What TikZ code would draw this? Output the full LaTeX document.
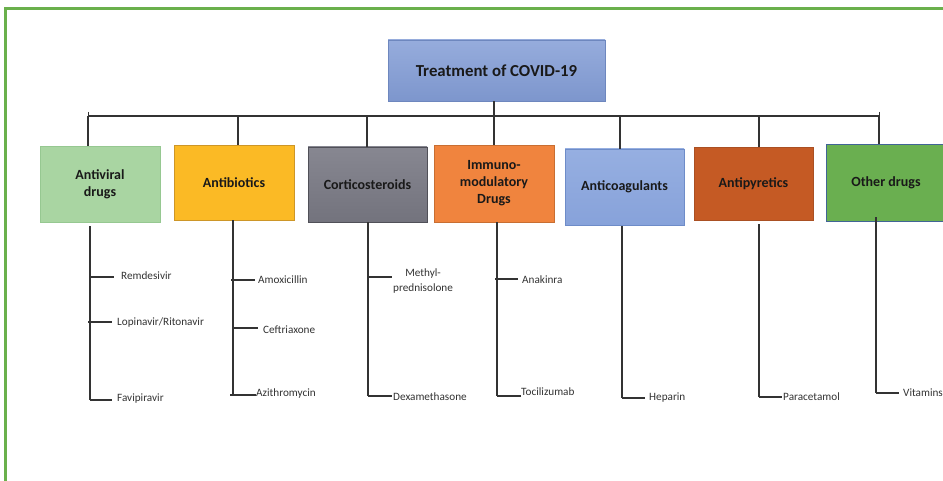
\documentclass[tikz,border=0pt]{standalone}
\usepackage{fontspec}
\setmainfont{Carlito}
\begin{document}
\begin{tikzpicture}[x=1pt,y=-1pt,
  box/.style={draw, line width=0.8pt, align=center, font=\bfseries\fontsize{14}{17}\selectfont, text=black!90, inner sep=2pt},
  leaf/.style={anchor=west, font=\fontsize{11.2}{13}\selectfont, text=black!80, inner sep=2pt},
  conn/.style={line width=1.4pt, draw=black!80}]
\useasboundingbox (0,0) rectangle (943,481);
\clip (0,0) rectangle (943,481);
\fill[white] (0,0) rectangle (943,481);
% frame
\draw[line width=3pt, draw={rgb,255:red,106;green,176;blue,76}] (5,481) -- (5,9) -- (945,9);
% root
\node[box, minimum width=217pt, minimum height=61pt, draw={rgb,255:red,110;green,135;blue,190},
  top color={rgb,255:red,150;green,172;blue,220}, bottom color={rgb,255:red,125;green,150;blue,205},
  font=\bfseries\fontsize{16.8}{19}\selectfont] (root) at (496.5,70.5) {Treatment of COVID-19};
% categories
\node[box, minimum width=120pt, minimum height=76pt, draw={rgb,255:red,150;green,200;blue,145},
  fill={rgb,255:red,169;green,213;blue,162}] (av) at (100,184) {Antiviral\\drugs};
\node[box, minimum width=120pt, minimum height=75pt, draw={rgb,255:red,205;green,150;blue,40},
  fill={rgb,255:red,251;green,186;blue,37}] (ab) at (234,182.5) {Antibiotics};
\node[box, minimum width=119pt, minimum height=75pt, draw={rgb,255:red,80;green,80;blue,88},
  top color={rgb,255:red,135;green,135;blue,145}, bottom color={rgb,255:red,115;green,115;blue,125}] (cs) at (367.5,184.5) {Corticosteroids};
\node[box, minimum width=120pt, minimum height=77pt, draw={rgb,255:red,200;green,110;blue,50},
  fill={rgb,255:red,240;green,132;blue,62}] (im) at (494,183.5) {Immuno-\\modulatory\\Drugs};
\node[box, minimum width=119pt, minimum height=76pt, draw={rgb,255:red,110;green,140;blue,200},
  top color={rgb,255:red,150;green,175;blue,225}, bottom color={rgb,255:red,135;green,162;blue,218}] (ac) at (624.5,187) {Anticoagulants};
\node[box, minimum width=119pt, minimum height=73pt, draw={rgb,255:red,170;green,80;blue,35},
  fill={rgb,255:red,197;green,90;blue,36}] (ap) at (753.5,183.5) {Antipyretics};
\node[box, minimum width=120pt, minimum height=77pt, draw={rgb,255:red,65;green,100;blue,150},
  fill={rgb,255:red,106;green,175;blue,80}] (ot) at (886,182.5) {Other drugs};
% bus
\coordinate (b1) at (88,116);
\coordinate (b2) at (238,116);
\coordinate (b3) at (367,116);
\coordinate (b4) at (494,116);
\coordinate (b5) at (620,116);
\coordinate (b6) at (759,116);
\coordinate (b7) at (879,116);
\draw[conn] (b4 |- root.south) -- (b4);
\draw[conn] (b1) -- (b7);
\draw[conn,line width=1pt] (88,112) -- (88,116) (879,112) -- (879,116);
\draw[conn] (b1) -- (b1 |- av.north);
\draw[conn] (b2) -- (b2 |- ab.north);
\draw[conn] (b3) -- (b3 |- cs.north);
\draw[conn] (b4) -- (b4 |- im.north);
\draw[conn] (b5) -- (b5 |- ac.north);
\draw[conn] (b6) -- (b6 |- ap.north);
\draw[conn] (b7) -- (b7 |- ot.north);
% leaves
\node[leaf] (l11) at (119,276) {Remdesivir};
\node[leaf] (l12) at (115,323) {Lopinavir/Ritonavir};
\node[leaf] (l13) at (115,399) {Favipiravir};
\node[leaf] (l21) at (256,280) {Amoxicillin};
\node[leaf] (l22) at (261,330) {Ceftriaxone};
\node[leaf] (l23) at (254,394) {Azithromycin};
\node[leaf, align=center, font=\fontsize{11.2}{15.5}\selectfont] (l31) at (391,281) {Methyl-\\prednisolone};
\node[leaf] (l32) at (391,397) {Dexamethasone};
\node[leaf] (l41) at (520,280) {Anakinra};
\node[leaf] (l42) at (519,392) {Tocilizumab};
\node[leaf] (l51) at (647,398) {Heparin};
\node[leaf] (l61) at (781,397) {Paracetamol};
\node[leaf] (l71) at (901,393) {Vitamins};
% stems
\coordinate (e1) at (90,400);
\coordinate (e2) at (233,395);
\coordinate (e3) at (368,396);
\coordinate (e4) at (497,396);
\coordinate (e5) at (622,398);
\coordinate (e6) at (759,397);
\coordinate (e7) at (876,393);
\draw[conn] (e1 |- av.south) ++(0,4) -- (e1);
\draw[conn] (e2 |- ab.south) -- (e2);
\draw[conn] (e3 |- cs.south) -- (e3);
\draw[conn] (e4 |- im.south) -- (e4);
\draw[conn] (e5 |- ac.south) ++(0,1) -- (e5);
\draw[conn] (e6 |- ap.south) ++(0,4) -- (e6);
\draw[conn] (e7 |- ot.south) ++(0,-4) -- (e7);
% branches
\draw[conn] (90,277) -- (114,277);
\draw[conn] (88,322) -- (112,322);
\draw[conn] (e1) -- ++(22,0);
\draw[conn] (231,280) -- (255,280);
\draw[conn] (233,328) -- (258,328);
\draw[conn] (e2) ++(-3,0) -- ++(26,0);
\draw[conn] (368,277) -- (392,277);
\draw[conn] (e3) -- ++(24,0);
\draw[conn] (495,279) -- (518,279);
\draw[conn] (e4) -- ++(24,0);
\draw[conn] (e5) -- ++(23,0);
\draw[conn] (e6) -- ++(23,0);
\draw[conn] (e7) -- ++(23,0);
\end{tikzpicture}
\end{document}
